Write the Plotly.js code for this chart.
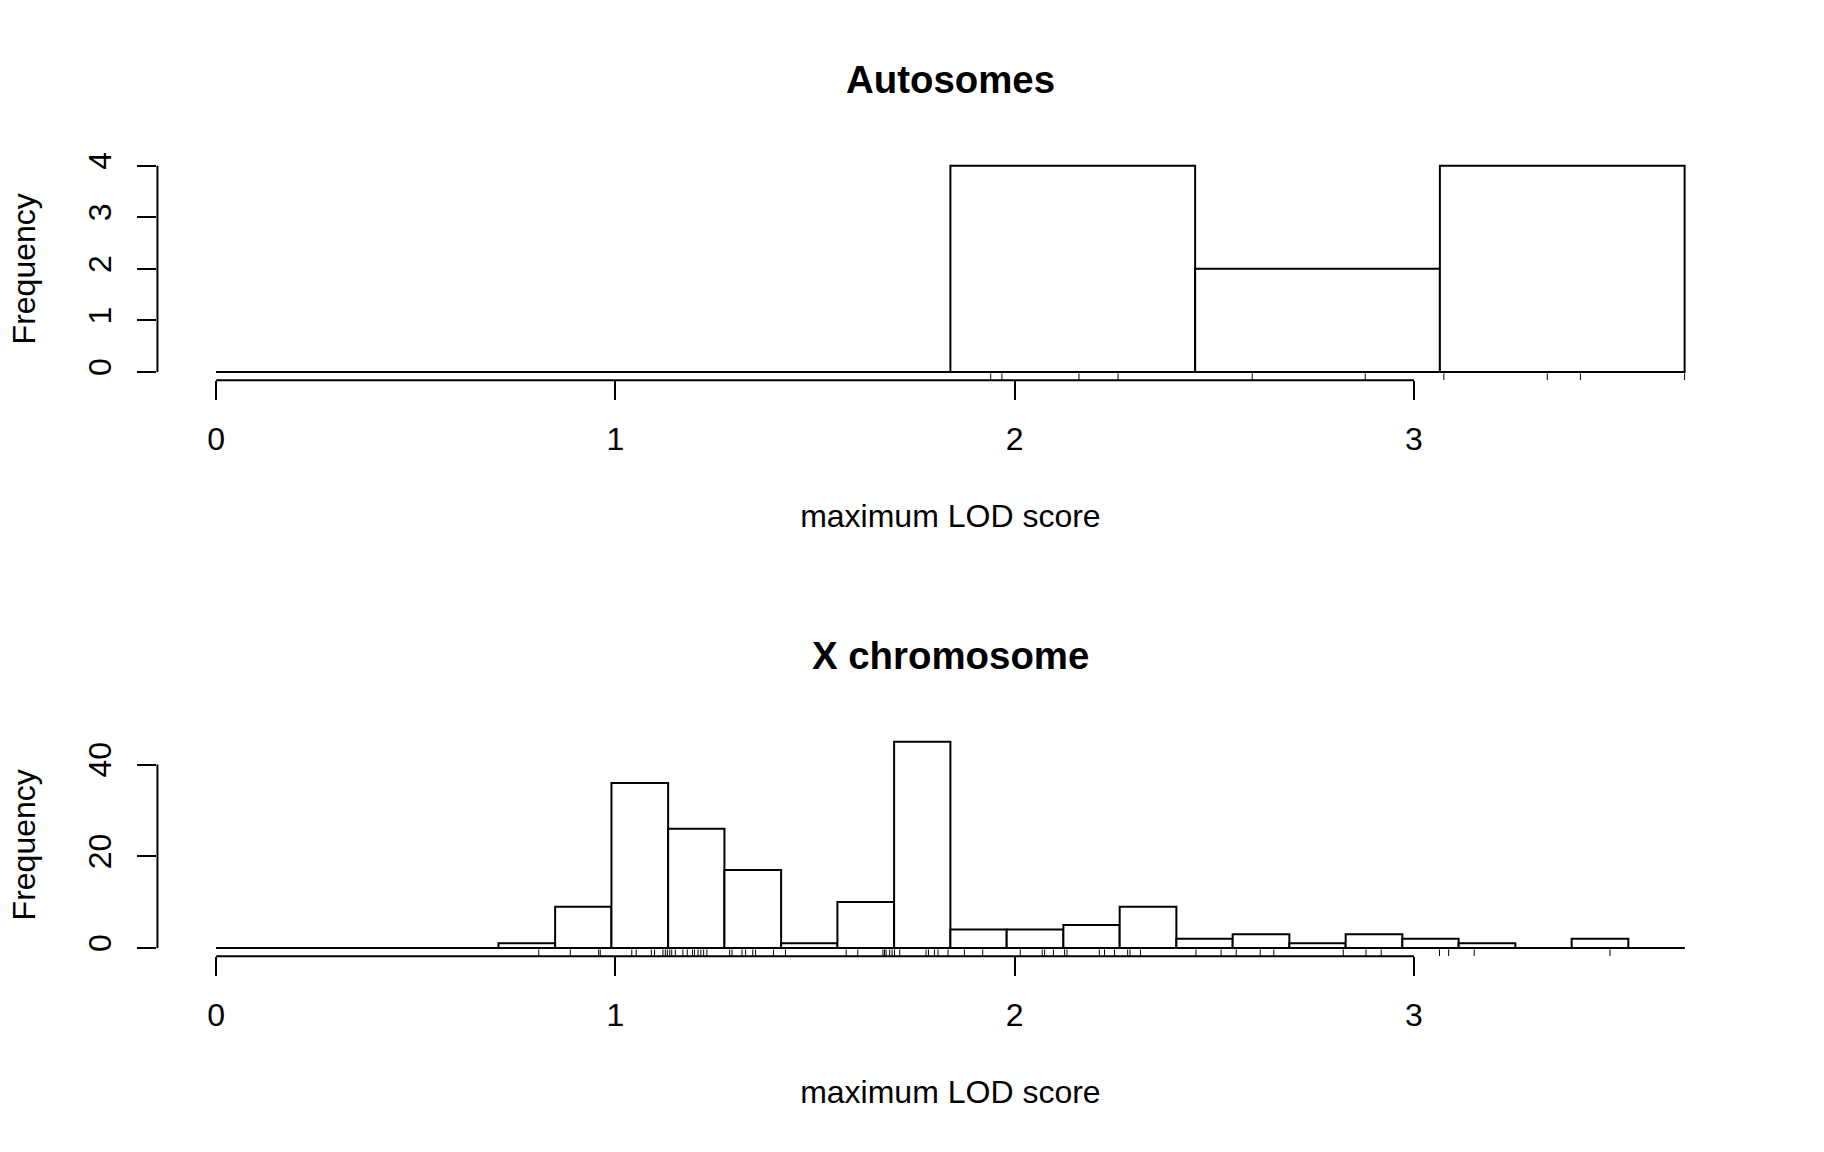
<!DOCTYPE html>
<html>
<head>
<meta charset="utf-8">
<script src="https://cdn.plot.ly/plotly-3.0.1.min.js"></script>
<style>
  html, body { margin: 0; padding: 0; background: #ffffff; }
  #chart { width: 1824px; height: 1152px; }
</style>
</head>
<body>
<div id="chart"></div>
<script>
// ---------------- data ----------------
const panelTitles = ["Autosomes", "X chromosome"];
const xAxisTitle = "maximum LOD score";
const yAxisTitle = "Frequency";

// Autosomes histogram
const breaksA = [0, 0.613, 1.226, 1.839, 2.452, 3.065, 3.678];
const countsA = [0, 0, 0, 4, 2, 4];
const rugA = [1.940, 1.968, 2.161, 2.259, 2.595, 2.878, 3.075, 3.334, 3.417, 3.678];

// X chromosome histogram
const breaksX = [0, 0.141, 0.283, 0.424, 0.566, 0.707, 0.849, 0.990, 1.132, 1.273,
                 1.415, 1.556, 1.698, 1.839, 1.980, 2.122, 2.263, 2.405, 2.546,
                 2.688, 2.829, 2.971, 3.112, 3.254, 3.395, 3.537, 3.678];
const countsX = [0, 0, 0, 0, 0, 1, 9, 36, 26, 17, 1, 10, 45, 4, 4, 5, 9, 2, 3, 1, 3, 2, 1, 0, 2, 0];
const rugX = [0.808, 0.887, 0.958, 0.962, 1.041, 1.052, 1.090, 1.098, 1.119, 1.125,
              1.130, 1.136, 1.141, 1.150, 1.169, 1.180, 1.193, 1.198, 1.207, 1.214,
              1.221, 1.229, 1.286, 1.292, 1.317, 1.326, 1.344, 1.351, 1.396, 1.426,
              1.578, 1.607, 1.670, 1.674, 1.678, 1.687, 1.693, 1.699, 1.712, 1.778,
              1.784, 1.799, 1.808, 1.833, 1.874, 1.920, 2.014, 2.069, 2.075, 2.097,
              2.125, 2.131, 2.212, 2.225, 2.250, 2.283, 2.289, 2.315, 2.454, 2.517,
              2.555, 2.615, 2.649, 2.823, 2.880, 2.918, 3.064, 3.087, 3.151, 3.491];

const xTicks = [0, 1, 2, 3];
const yTicksA = [0, 1, 2, 3, 4];
const yTicksX = [0, 20, 40];

// ---------------- layout geometry (R base graphics look) ----------------
const W = 1824, H = 1152;
const LINE = 38.4;                 // one margin line in px
const FONT = "Liberation Sans, Arial, Helvetica, sans-serif";
const FS = 32;                     // axis text size
const plotL = 4.1 * LINE, plotR = W - 2.1 * LINE;
const xDomain = [plotL / W, plotR / W];
const topA = 4.1 * LINE, botA = H / 2 - 5.1 * LINE;
const topX = H / 2 + 4.1 * LINE, botX = H - 5.1 * LINE;
const yDomainA = [1 - botA / H, 1 - topA / H];
const yDomainX = [1 - botX / H, 1 - topX / H];

function padRange(lo, hi) { const p = 0.04 * (hi - lo); return [lo - p, hi + p]; }
const xRange = padRange(breaksA[0], breaksA[breaksA.length - 1]);
const yRangeA = padRange(0, Math.max(...countsA));
const yRangeX = padRange(0, Math.max(...countsX));

function barTrace(breaks, counts, xa, ya) {
  const cx = [], w = [];
  for (let i = 0; i < counts.length; i++) {
    cx.push((breaks[i] + breaks[i + 1]) / 2);
    w.push(breaks[i + 1] - breaks[i]);
  }
  return {
    type: 'bar', x: cx, y: counts, width: w, xaxis: xa, yaxis: ya,
    marker: { color: '#ffffff', line: { color: '#000000', width: 2 } },
    hoverinfo: 'skip', showlegend: false
  };
}
function baseTrace(breaks, xa, ya) {
  return {
    type: 'scatter', mode: 'lines', x: [breaks[0], breaks[breaks.length - 1]], y: [0, 0],
    xaxis: xa, yaxis: ya, line: { color: '#000000', width: 2 },
    hoverinfo: 'skip', showlegend: false
  };
}
function rugTrace(vals, yr, xa, ya) {
  const y0 = yr[0], y1 = yr[0] + 0.03 * (yr[1] - yr[0]);
  const xs = [], ys = [];
  vals.forEach(v => { xs.push(v, v, null); ys.push(y0, y1, null); });
  return {
    type: 'scatter', mode: 'lines', x: xs, y: ys, xaxis: xa, yaxis: ya,
    line: { color: '#000000', width: 1 }, hoverinfo: 'skip', showlegend: false
  };
}

const data = [
  barTrace(breaksA, countsA, 'x', 'y'),
  barTrace(breaksX, countsX, 'x2', 'y2'),
  baseTrace(breaksA, 'x', 'y'),
  baseTrace(breaksX, 'x2', 'y2'),
  rugTrace(rugA, yRangeA, 'x', 'y'),
  rugTrace(rugX, yRangeX, 'x2', 'y2')
];

function xAxisDef(anchor) {
  return {
    domain: xDomain, range: xRange, anchor: anchor,
    showgrid: false, zeroline: false, showline: false,
    tickmode: 'array', tickvals: xTicks, ticktext: xTicks.map(String),
    ticks: 'outside', ticklen: 0.5 * LINE, tickwidth: 2, tickcolor: '#000000',
    ticklabelstandoff: 11,
    tickfont: { family: FONT, size: FS, color: '#000000' },
    title: { text: xAxisTitle, font: { family: FONT, size: FS, color: '#000000' }, standoff: 48 },
    fixedrange: true
  };
}
function yAxisDef(domain, range, ticks, anchor) {
  return {
    domain: domain, range: range, anchor: anchor,
    showgrid: false, zeroline: false, showline: false,
    tickmode: 'array', tickvals: ticks, ticktext: ticks.map(String),
    ticks: 'outside', ticklen: 0.5 * LINE, tickwidth: 2, tickcolor: '#000000',
    tickangle: -90, ticklabelstandoff: 13,
    tickfont: { family: FONT, size: FS, color: '#000000' },
    title: { text: yAxisTitle, font: { family: FONT, size: FS, color: '#000000' }, standoff: 37 },
    fixedrange: true
  };
}

const shapes = [];
function axisLines(xa, ya, yTicks, yDom) {
  shapes.push({ type: 'line', xref: xa, yref: 'paper', x0: xTicks[0], x1: xTicks[xTicks.length - 1],
                y0: yDom[0], y1: yDom[0], line: { color: '#000000', width: 2 }, layer: 'above' });
  shapes.push({ type: 'line', xref: 'paper', yref: ya, x0: xDomain[0], x1: xDomain[0],
                y0: yTicks[0], y1: yTicks[yTicks.length - 1], line: { color: '#000000', width: 2 }, layer: 'above' });
}
axisLines('x', 'y', yTicksA, yDomainA);
axisLines('x2', 'y2', yTicksX, yDomainX);

const titleFont = { family: FONT, size: 1.2 * FS, color: '#000000', weight: 'bold' };
const annotations = [
  { text: '<b>' + panelTitles[0] + '</b>', xref: 'paper', yref: 'paper', x: (xDomain[0] + xDomain[1]) / 2,
    y: 1 - 80 / H, xanchor: 'center', yanchor: 'middle', showarrow: false, font: titleFont },
  { text: '<b>' + panelTitles[1] + '</b>', xref: 'paper', yref: 'paper', x: (xDomain[0] + xDomain[1]) / 2,
    y: 1 - 655 / H, xanchor: 'center', yanchor: 'middle', showarrow: false, font: titleFont }
];

const layout = {
  width: W, height: H,
  margin: { l: 0, r: 0, t: 0, b: 0, pad: 0 },
  paper_bgcolor: '#ffffff', plot_bgcolor: '#ffffff',
  showlegend: false, barmode: 'overlay',
  xaxis: xAxisDef('y'),
  xaxis2: xAxisDef('y2'),
  yaxis: yAxisDef(yDomainA, yRangeA, yTicksA, 'x'),
  yaxis2: yAxisDef(yDomainX, yRangeX, yTicksX, 'x2'),
  shapes: shapes,
  annotations: annotations,
  font: { family: FONT, color: '#000000' }
};

Plotly.newPlot('chart', data, layout, { displayModeBar: false, staticPlot: true });
</script>
</body>
</html>
